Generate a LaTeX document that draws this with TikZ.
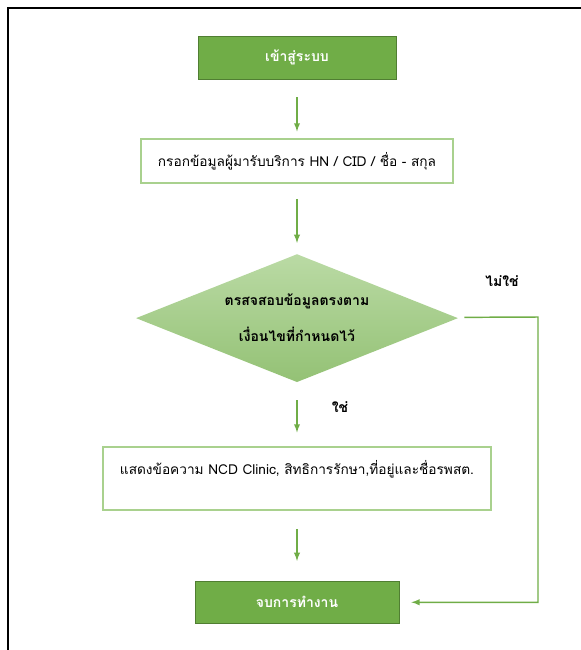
\documentclass[tikz,border=0pt]{standalone}
\usepackage{fontspec}
\newfontfamily\thaifont[Script=Thai]{Loma}
\usetikzlibrary{positioning,shapes.geometric}
\tikzset{>=latex}
\definecolor{leafgreen}{HTML}{70AD47}
\definecolor{edgegreen}{HTML}{507E32}
\definecolor{palegreen}{HTML}{A9D18E}

\begin{document}
\begin{tikzpicture}[x=0.75pt,y=-0.75pt,
  greenbox/.style={rectangle,fill=leafgreen,draw=edgegreen,line width=0.6pt,
    text=white,font=\thaifont\bfseries\fontsize{10.5}{13}\selectfont},
  whitebox/.style={rectangle,fill=white,draw=palegreen,line width=1.1pt,
    font=\thaifont\fontsize{10.25}{13}\selectfont},
  decision/.style={diamond,aspect=2.5,top color=palegreen!80!white,bottom color=leafgreen!75!white,
    inner sep=0pt,minimum width=241.5pt,minimum height=96pt,align=center,
    font=\thaifont\bfseries\fontsize{10.5}{27}\selectfont},
  flow/.style={->,draw=leafgreen,line width=1.1pt},
  answer/.style={font=\thaifont\bfseries\fontsize{10.5}{13}\selectfont}]
\useasboundingbox (0,0) rectangle (581,650);
\draw [line width=1.5pt] (581,8) -- (8,8) -- (8,650);

\node [greenbox,minimum width=148.5pt,minimum height=32.25pt] (start) at (297,57.5) {เข้าสู่ระบบ};
\node [whitebox,minimum width=234pt,minimum height=33pt,below=44.25pt of start] (input) {กรอกข้อมูลผู้มารับบริการ HN / CID / ชื่อ - สกุล};
\node [decision,below=52.5pt of input] (check) {ตรสจสอบข้อมูลตรงตาม\\เงื่อนไขที่กำหนดไว้};
\node [whitebox,minimum width=291pt,minimum height=47.25pt,text depth=17pt,below=48pt of check] (show) {แสดงข้อความ NCD Clinic, สิทธิการรักษา,ที่อยู่และชื่อรพสต.};
\node [greenbox,minimum width=153pt,minimum height=31.5pt,below=52.5pt of show] (finish) {จบการทำงาน};
\coordinate (turn) at (538,317);

\node [answer] (no) at (502,281) {ไม่ใช่};
\node [answer] (yes) at (340,407) {ใช่};

\draw [flow,shorten <=13.5pt,shorten >=5.25pt] (start) -- (input);
\draw [flow,shorten <=11.25pt,shorten >=8.25pt] (input) -- (check);
\draw [flow,shorten <=13.5pt,shorten >=10.5pt] (check) -- (show);
\draw [flow,shorten <=13.5pt,shorten >=15pt] (show) -- (finish);
\draw [flow,shorten <=6pt,shorten >=9pt] (check) -- (turn) |- (finish);
\end{tikzpicture}
\end{document}
